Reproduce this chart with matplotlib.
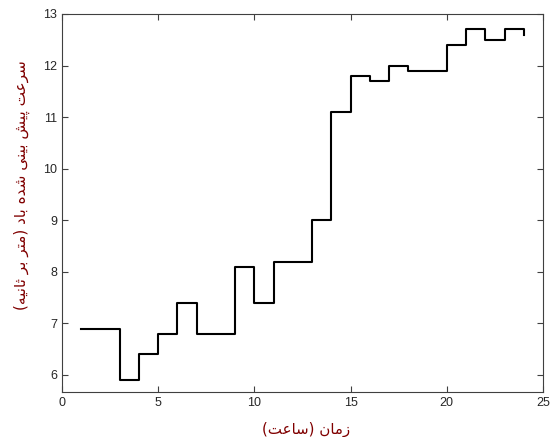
import numpy as np
import matplotlib
matplotlib.use("Agg")
import matplotlib.pyplot as plt

# hourly forecast wind speed, stairs plot
hours = np.arange(1, 25)
speed = [6.9, 6.9, 5.9, 6.4, 6.8, 7.4, 6.8, 6.8, 8.1, 7.4, 8.2, 8.2,
         9.0, 11.1, 11.8, 11.7, 12.0, 11.9, 11.9, 12.4, 12.7, 12.5, 12.7, 12.6]

xlabel_text = "زمان (ساعت)"
ylabel_text = "سرعت پیش بینی شده باد (متر بر ثانیه)"

# presentation forms: isolated, final, initial, medial
FORMS = {
    "ا": (0xFE8D, 0xFE8E, None, None),
    "ب": (0xFE8F, 0xFE90, 0xFE91, 0xFE92),
    "پ": (0xFB56, 0xFB57, 0xFB58, 0xFB59),
    "ت": (0xFE95, 0xFE96, 0xFE97, 0xFE98),
    "ث": (0xFE99, 0xFE9A, 0xFE9B, 0xFE9C),
    "د": (0xFEA9, 0xFEAA, None, None),
    "ر": (0xFEAD, 0xFEAE, None, None),
    "ز": (0xFEAF, 0xFEB0, None, None),
    "س": (0xFEB1, 0xFEB2, 0xFEB3, 0xFEB4),
    "ش": (0xFEB5, 0xFEB6, 0xFEB7, 0xFEB8),
    "ع": (0xFEC9, 0xFECA, 0xFECB, 0xFECC),
    "م": (0xFEE1, 0xFEE2, 0xFEE3, 0xFEE4),
    "ن": (0xFEE5, 0xFEE6, 0xFEE7, 0xFEE8),
    "ه": (0xFEE9, 0xFEEA, 0xFEEB, 0xFEEC),
    "ی": (0xFBFC, 0xFBFD, 0xFBFE, 0xFBFF),
}
MIRROR = {"(": ")", ")": "("}


def shape(s):
    """crude persian shaping + reverse to visual order"""
    out = []
    for i, c in enumerate(s):
        if c not in FORMS:
            out.append(MIRROR.get(c, c))
            continue
        prev = s[i - 1] if i > 0 else ""
        nxt = s[i + 1] if i + 1 < len(s) else ""
        jp = prev in FORMS and FORMS[prev][2] is not None
        jn = nxt in FORMS and FORMS[c][2] is not None
        f = FORMS[c]
        if jp and jn:
            code = f[3]
        elif jp:
            code = f[1]
        elif jn:
            code = f[2]
        else:
            code = f[0]
        out.append(chr(code))
    return "".join(out[::-1])


plt.rcParams['font.family'] = ['Liberation Sans', 'DejaVu Sans']

fig = plt.figure(figsize=(5.53, 4.37), dpi=100)
ax = fig.add_axes([0.1121, 0.103, 0.8698, 0.865])

ax.step(hours, speed, where='post', color='black', lw=1.5)

ax.set_xlim(0, 25)
ax.set_ylim(5.67, 13)
ax.set_xticks(np.arange(0, 26, 5))
ax.set_yticks(np.arange(6, 14, 1))
ax.tick_params(direction='in', top=True, right=True, labelsize=9,
               length=4, width=0.8, colors='#404040', labelcolor='#262626')
for sp in ax.spines.values():
    sp.set_color('#404040')
    sp.set_linewidth(0.8)

ax.set_xlabel(shape(xlabel_text), family=['DejaVu Sans'], fontsize=10.8,
              color='#800000')
ax.set_ylabel(shape(ylabel_text), family=['DejaVu Sans'], fontsize=11,
              color='#800000')
ax.xaxis.set_label_coords(0.507, -0.08)
ax.yaxis.set_label_coords(-0.066, 0.548)

fig.savefig("out.png", dpi=100)
